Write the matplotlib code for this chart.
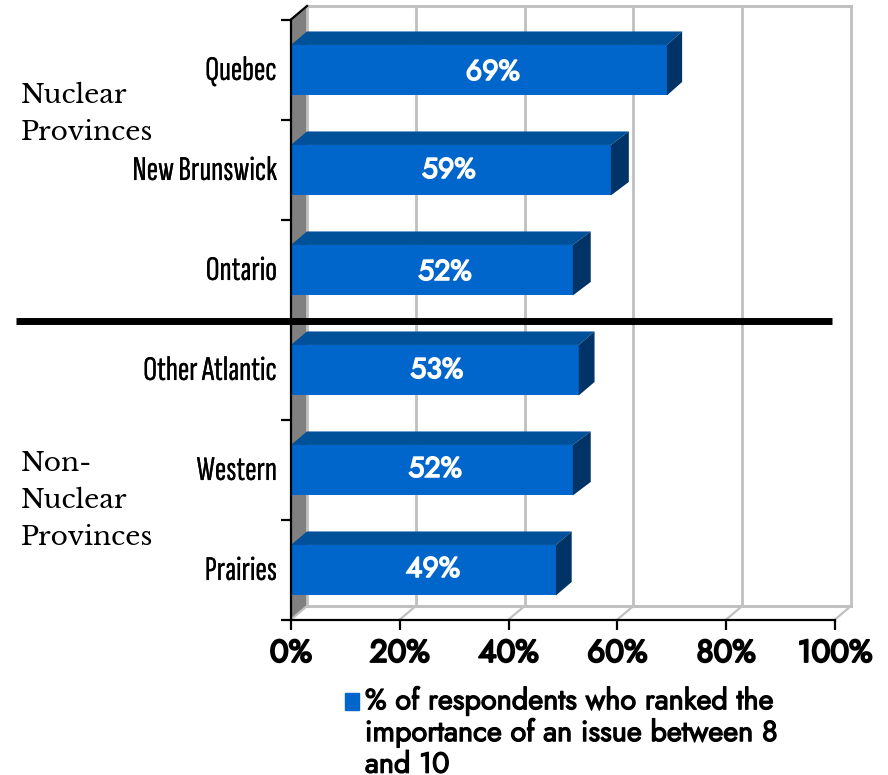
import matplotlib
matplotlib.use("Agg")
import matplotlib.pyplot as plt
import matplotlib.patheffects as pe
from matplotlib.patches import Patch, Polygon, Rectangle
from matplotlib.legend_handler import HandlerPatch
from matplotlib.transforms import ScaledTranslation

regions = ["Quebec", "New Brunswick", "Ontario", "Other Atlantic", "Western", "Prairies"]
values = [69, 59, 52, 53, 52, 49]
drawn_lengths = [69.1, 58.8, 51.8, 52.9, 51.8, 48.7]
side_depths = [2.8, 3.3, 3.3, 2.9, 3.3, 2.9]
label_x = [37.1, 29.0, 28.3, 26.8, 26.5, 26.1]
label_shift = [0.025, 0.005, 0.025, 0.005, -0.005, -0.005]
x_ticks = [0, 20, 40, 60, 80, 100]
legend_label = "% of respondents who ranked the\nimportance of an issue between 8\nand 10"

W, H = 888, 775
FRONT = "#0066CC"
TOP = "#00509A"
SIDE = "#003366"
WALL = "#808080"
GRID = "#C0C0C0"
dx, dy = 2.94, 0.135
bar_h = 0.505
bar_shift = 0.007

BOLD = ["Jost", "DejaVu Sans"]
NARROW = ["Sofia Sans Extra Condensed", "DejaVu Sans"]
SERIF = ["Libre Baskerville", "DejaVu Serif"]


# Jost only comes in one weight here, so thicken it with a stroke
def heavy(width, color="black"):
    return [pe.withStroke(linewidth=width, foreground=color)]


fig = plt.figure(figsize=(W / 100, H / 100), dpi=100)
ax = fig.add_axes([291 / W, 1 - 619.5 / H, 544 / W, 600 / H])
ax.set_xlim(0, 100)
ax.set_ylim(5.5, -0.5)
ax.patch.set_alpha(0)

ypos = list(range(len(regions)))

# back wall and floor of the fake 3d box
ax.add_patch(Polygon([(0, -0.5), (dx, -0.5 - dy), (dx, 5.5 - dy), (0, 5.5)],
                     fc=WALL, ec="none", clip_on=False, zorder=1))
for t in x_ticks:
    ax.plot([t + dx, t + dx], [-0.5 - dy, 5.5 - dy], color=GRID, lw=2, clip_on=False, zorder=1,
            solid_capstyle="projecting")
    ax.plot([t, t + dx], [5.5, 5.5 - dy], color=GRID, lw=1.6, clip_on=False, zorder=1)
ax.plot([dx, 100 + dx], [-0.5 - dy, -0.5 - dy], color=GRID, lw=2.2, clip_on=False, zorder=1)
ax.plot([dx, 100 + dx], [5.5 - dy, 5.5 - dy], color=GRID, lw=2.2, clip_on=False, zorder=1)
ax.plot([0, dx], [-0.5, -0.5 - dy], color="black", lw=1.6, clip_on=False, zorder=3)

ax.barh([y + bar_shift for y in ypos], drawn_lengths, height=bar_h, color=FRONT, zorder=4)
for y, v, d, sd, lx, ls in zip(ypos, values, drawn_lengths, side_depths, label_x, label_shift):
    y0 = y + bar_shift - bar_h / 2
    y1 = y + bar_shift + bar_h / 2
    ax.add_patch(Polygon([(0, y0), (d, y0), (d + sd, y0 - dy), (dx, y0 - dy)], fc=TOP, ec="none", zorder=4))
    ax.add_patch(Polygon([(d, y0), (d + sd, y0 - dy), (d + sd, y1 - dy), (d, y1)], fc=SIDE, ec="none", zorder=4))
    ax.text(lx, y + ls, f"{v}%", color="white", fontsize=20.5, family=BOLD, ha="center", va="center",
            zorder=5, path_effects=heavy(1.1, "white"))

# axes
for s in ["top", "right"]:
    ax.spines[s].set_visible(False)
ax.spines["left"].set_linewidth(1.6)
ax.spines["bottom"].set_linewidth(1.6)
ax.spines["left"].set_zorder(6)
ax.spines["bottom"].set_zorder(6)
ax.set_yticks([y - 0.5 for y in ypos] + [5.5])
ax.set_yticklabels([])
ax.set_yticks(ypos, minor=True)
ax.set_yticklabels(regions, minor=True, family=NARROW, fontsize=25)
ax.tick_params(axis="y", which="major", length=7.5, width=1.6)
ax.tick_params(axis="y", which="minor", length=0, pad=10)
up = ScaledTranslation(0, 1.5 / 100, fig.dpi_scale_trans)
for lab in ax.get_yticklabels(minor=True):
    lab.set_transform(lab.get_transform() + up)
    lab.set_path_effects(heavy(0.12))
ax.set_xticks(x_ticks)
ax.set_xticklabels([f"{t}%" for t in x_ticks], fontsize=22.5, family=BOLD)
ax.tick_params(axis="x", length=7.5, width=1.6, pad=5)
for lab in ax.get_xticklabels():
    lab.set_path_effects(heavy(1.5))

# separator between the two groups
ax.plot([-50.5, 99.5], [2.51, 2.51], color="black", lw=5, clip_on=False, zorder=7, solid_capstyle="butt")

# group labels on the left
side_font = dict(family=SERIF, fontsize=19, ha="left", va="center", linespacing=1.46, clip_on=False)
ax.text(20.5 / W, 1 - 113.5 / H, "Nuclear\nProvinces", transform=fig.transFigure, **side_font)
ax.text(20.5 / W, 1 - 500.5 / H, "Non-\nNuclear\nProvinces", transform=fig.transFigure, **side_font)


# legend marker sits next to the first line of the label, not in the middle
def first_line_patch(legend, orig_handle, xdescent, ydescent, width, height, fontsize):
    return Rectangle((-xdescent, -ydescent + 23.4), width, height)


leg = fig.legend(handles=[Patch(color=FRONT, label=legend_label)], loc="upper left",
                 bbox_to_anchor=(345 / W, 1 - 686 / H), frameon=False,
                 prop=dict(family=BOLD, size=20.8), handlelength=0.49, handleheight=0.49,
                 handletextpad=0.2, borderpad=0, borderaxespad=0,
                 handler_map={Patch: HandlerPatch(patch_func=first_line_patch)})
for t in leg.get_texts():
    t.set_linespacing(1.07)
    t.set_path_effects(heavy(0.9))

fig.savefig("out.png", dpi=100)
